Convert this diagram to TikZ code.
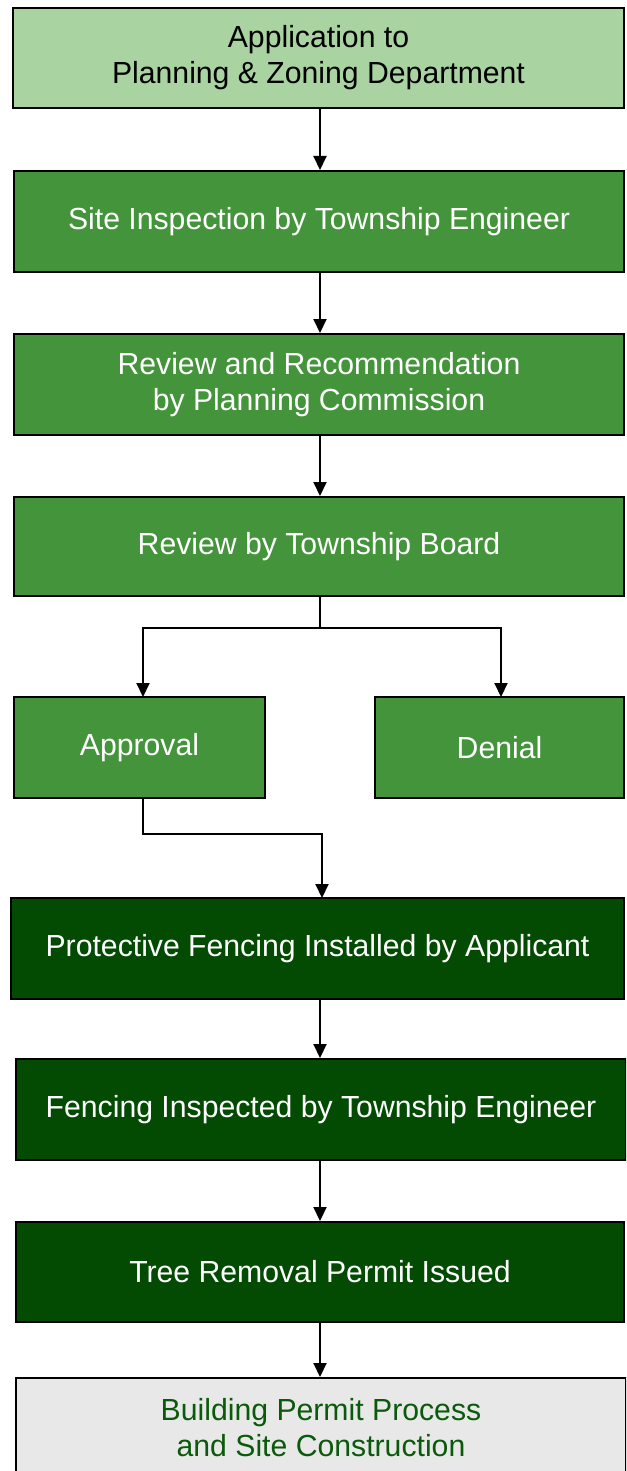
\documentclass[tikz,border=0pt]{standalone}
\usepackage{fontspec}
\setmainfont[FakeStretch=0.99]{Liberation Sans}
\usetikzlibrary{arrows.meta}
\definecolor{lightg}{HTML}{A9D3A0}
\definecolor{midg}{HTML}{43943A}
\definecolor{darkg}{HTML}{034B03}
\definecolor{greyf}{HTML}{E8E8E8}
\definecolor{textg}{HTML}{0B5A0B}
\begin{document}
\begin{tikzpicture}[x=1pt,y=-1pt,
  box/.style={draw=black, line width=2pt, align=center, inner sep=0pt,
    font=\fontsize{30.5}{36}\selectfont},
  lbox/.style={box, fill=lightg, text=black},
  mbox/.style={box, fill=midg, text=white},
  dbox/.style={box, fill=darkg, text=white},
  gbox/.style={box, fill=greyf, text=textg},
  arr/.style={draw=black, line width=2pt, -{Triangle[width=13pt,length=14pt]}},
  ln/.style={draw=black, line width=2pt}]
\useasboundingbox (0,0) rectangle (626,1471);
\begin{scope}
\clip (0,0) rectangle (626,1471);
\node[lbox, minimum width=611pt, minimum height=100pt] (b1) at (318.5,58) {Application to\\Planning \& Zoning Department};
\node[mbox, minimum width=610pt, minimum height=101pt] (b2) at (319,221.5) {Site Inspection by Township Engineer};
\node[mbox, minimum width=610pt, minimum height=101pt] (b3) at (319,384.5) {Review and Recommendation\\by Planning Commission};
\node[mbox, minimum width=610pt, minimum height=99pt] (b4) at (319,546.5) {Review by Township Board};
\node[mbox, minimum width=251pt, minimum height=101pt] (ap) at (139.5,747.5) {Approval};
\node[mbox, minimum width=249pt, minimum height=101pt] (de) at (499.5,747.5) {Denial};
\node[dbox, minimum width=613pt, minimum height=101pt] (b5) at (317.5,948.5) {Protective Fencing Installed by Applicant};
\node[dbox, minimum width=610pt, minimum height=101pt] (b6) at (321,1109.5) {Fencing Inspected by Township Engineer};
\node[dbox, minimum width=608pt, minimum height=100pt] (b7) at (320,1272) {Tree Removal Permit Issued};
\node[gbox, minimum width=610pt, minimum height=100pt] (b8) at (321,1428) {Building Permit Process\\and Site Construction};
\end{scope}
\coordinate (s1) at (320,108);
\coordinate (s2) at (320,272);
\coordinate (s3) at (320,435);
\coordinate (s4) at (320,596);
\coordinate (br) at (320,628);
\coordinate (apin) at (143,697);
\coordinate (dein) at (501,697);
\coordinate (apout) at (143,798);
\coordinate (jn) at (143,834);
\coordinate (b5in) at (322,898);
\coordinate (s5) at (320,999);
\coordinate (s6) at (320,1160);
\coordinate (s7) at (320,1322);
\draw[arr] (s1) -- (s1 |- b2.north);
\draw[arr] (s2) -- (s2 |- b3.north);
\draw[arr] (s3) -- (s3 |- b4.north);
\draw[ln] (s4) -- (br);
\draw[arr] (br) -| (apin);
\draw[arr] (br) -| (dein);
\draw[arr] (apout) -- (jn) -| (b5in);
\draw[arr] (s5) -- (s5 |- b6.north);
\draw[arr] (s6) -- (s6 |- b7.north);
\draw[arr] (s7) -- (s7 |- b8.north);
\end{tikzpicture}
\end{document}
